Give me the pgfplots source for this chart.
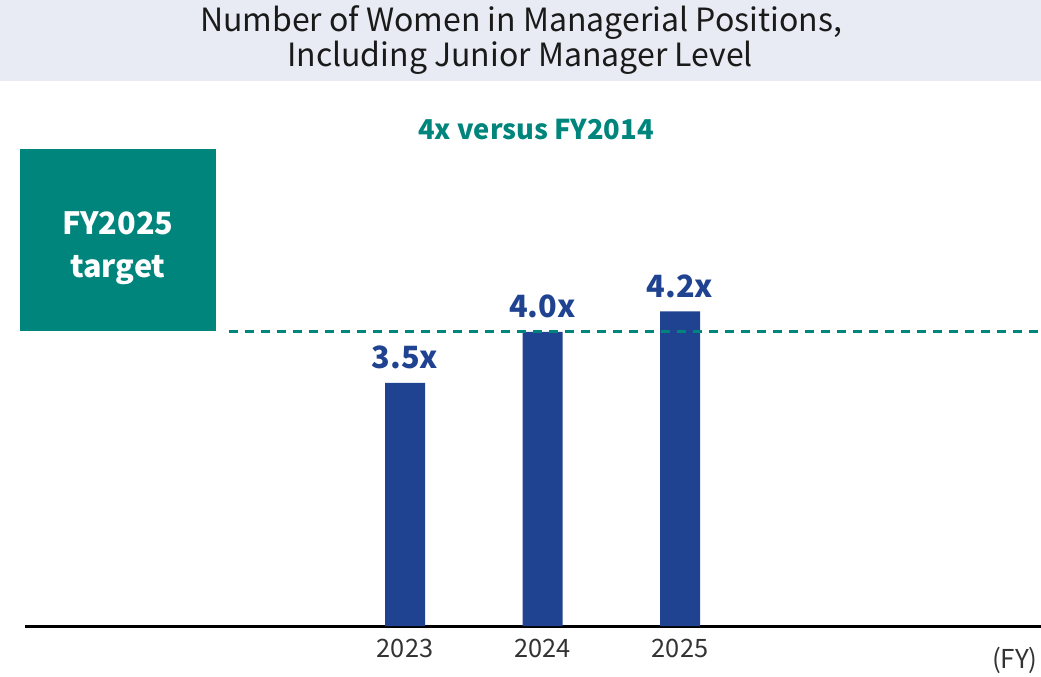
\documentclass[border=0pt]{standalone}
\usepackage{fontspec}
\setmainfont{Noto Sans CJK JP}
\usepackage{pgfplots}
\pgfplotsset{compat=1.18}

\definecolor{band}{HTML}{E8EBF4}
\definecolor{barblue}{HTML}{1F4391}
\definecolor{teal}{HTML}{00857D}
\definecolor{ticktext}{HTML}{333333}
\definecolor{titletext}{HTML}{1A1A1A}

\begin{document}
\begin{tikzpicture}
% header band and annotations, laid out on a 0.75pt grid with y pointing down
\begin{scope}[x=0.75pt,y=-0.75pt]
  \fill[band] (0,0) rectangle (1041,81);
  \node[anchor=base,inner sep=0,text=titletext,font=\fontsize{24}{28}\selectfont] at (521,32) {Number of Women in Managerial Positions,};
  \node[anchor=base,inner sep=0,text=titletext,font=\fontsize{24}{28}\selectfont] at (520,67) {Including Junior Manager Level};
  \node[anchor=base,inner sep=0,text=teal,font=\fontsize{20.5}{24}\selectfont\bfseries] at (536,140) {4x versus FY2014};
  \fill[teal] (20,149) rectangle (216,331);
  \node[anchor=base,inner sep=0,text=white,font=\fontsize{23}{27}\selectfont\bfseries] at (118,234) {FY2025};
  \node[anchor=base,inner sep=0,text=white,font=\fontsize{23}{27}\selectfont\bfseries] at (118,277) {target};
  \node[anchor=base east,inner sep=0,text=ticktext,font=\fontsize{19.5}{23}\selectfont] at (1038,668) {(FY)};
\end{scope}

\begin{axis}[
  at={(18.75pt,-469.5pt)}, anchor=south west,
  scale only axis,
  width=762pt, height=373.5pt,
  xmin=-2.7636, xmax=4.6255,
  ymin=1.113, ymax=6,
  clip=false,
  axis x line=bottom,
  axis y line=none,
  x axis line style={-, line width=2.25pt, black},
  xtick={0,1,2},
  xticklabels={2023,2024,2025},
  major tick length=0pt,
  xticklabel style={anchor=base, inner sep=0pt, yshift=-23.25pt, text=ticktext, font=\fontsize{19}{23}\selectfont},
  ybar,
  bar width=30pt,
  bar shift=0pt,
  point meta=explicit symbolic,
  nodes near coords,
  nodes near coords style={anchor=base, inner sep=0pt, yshift=10.5pt, text=barblue, font=\fontsize{23}{27}\selectfont\bfseries},
]
\addplot[fill=barblue, draw=none] coordinates {(0,3.5) [3.5x] (1,4.0) [4.0x] (2,4.2) [4.2x]};
% FY2025 target level
\draw[teal, line width=2.25pt, dash pattern=on 7.1pt off 4.9pt] (axis cs:-1.28,4) -- (axis cs:4.6255,4);
\end{axis}

\pgfresetboundingbox
\path[use as bounding box] (0,0) rectangle (780.75pt,-507.75pt);
\end{tikzpicture}
\end{document}
